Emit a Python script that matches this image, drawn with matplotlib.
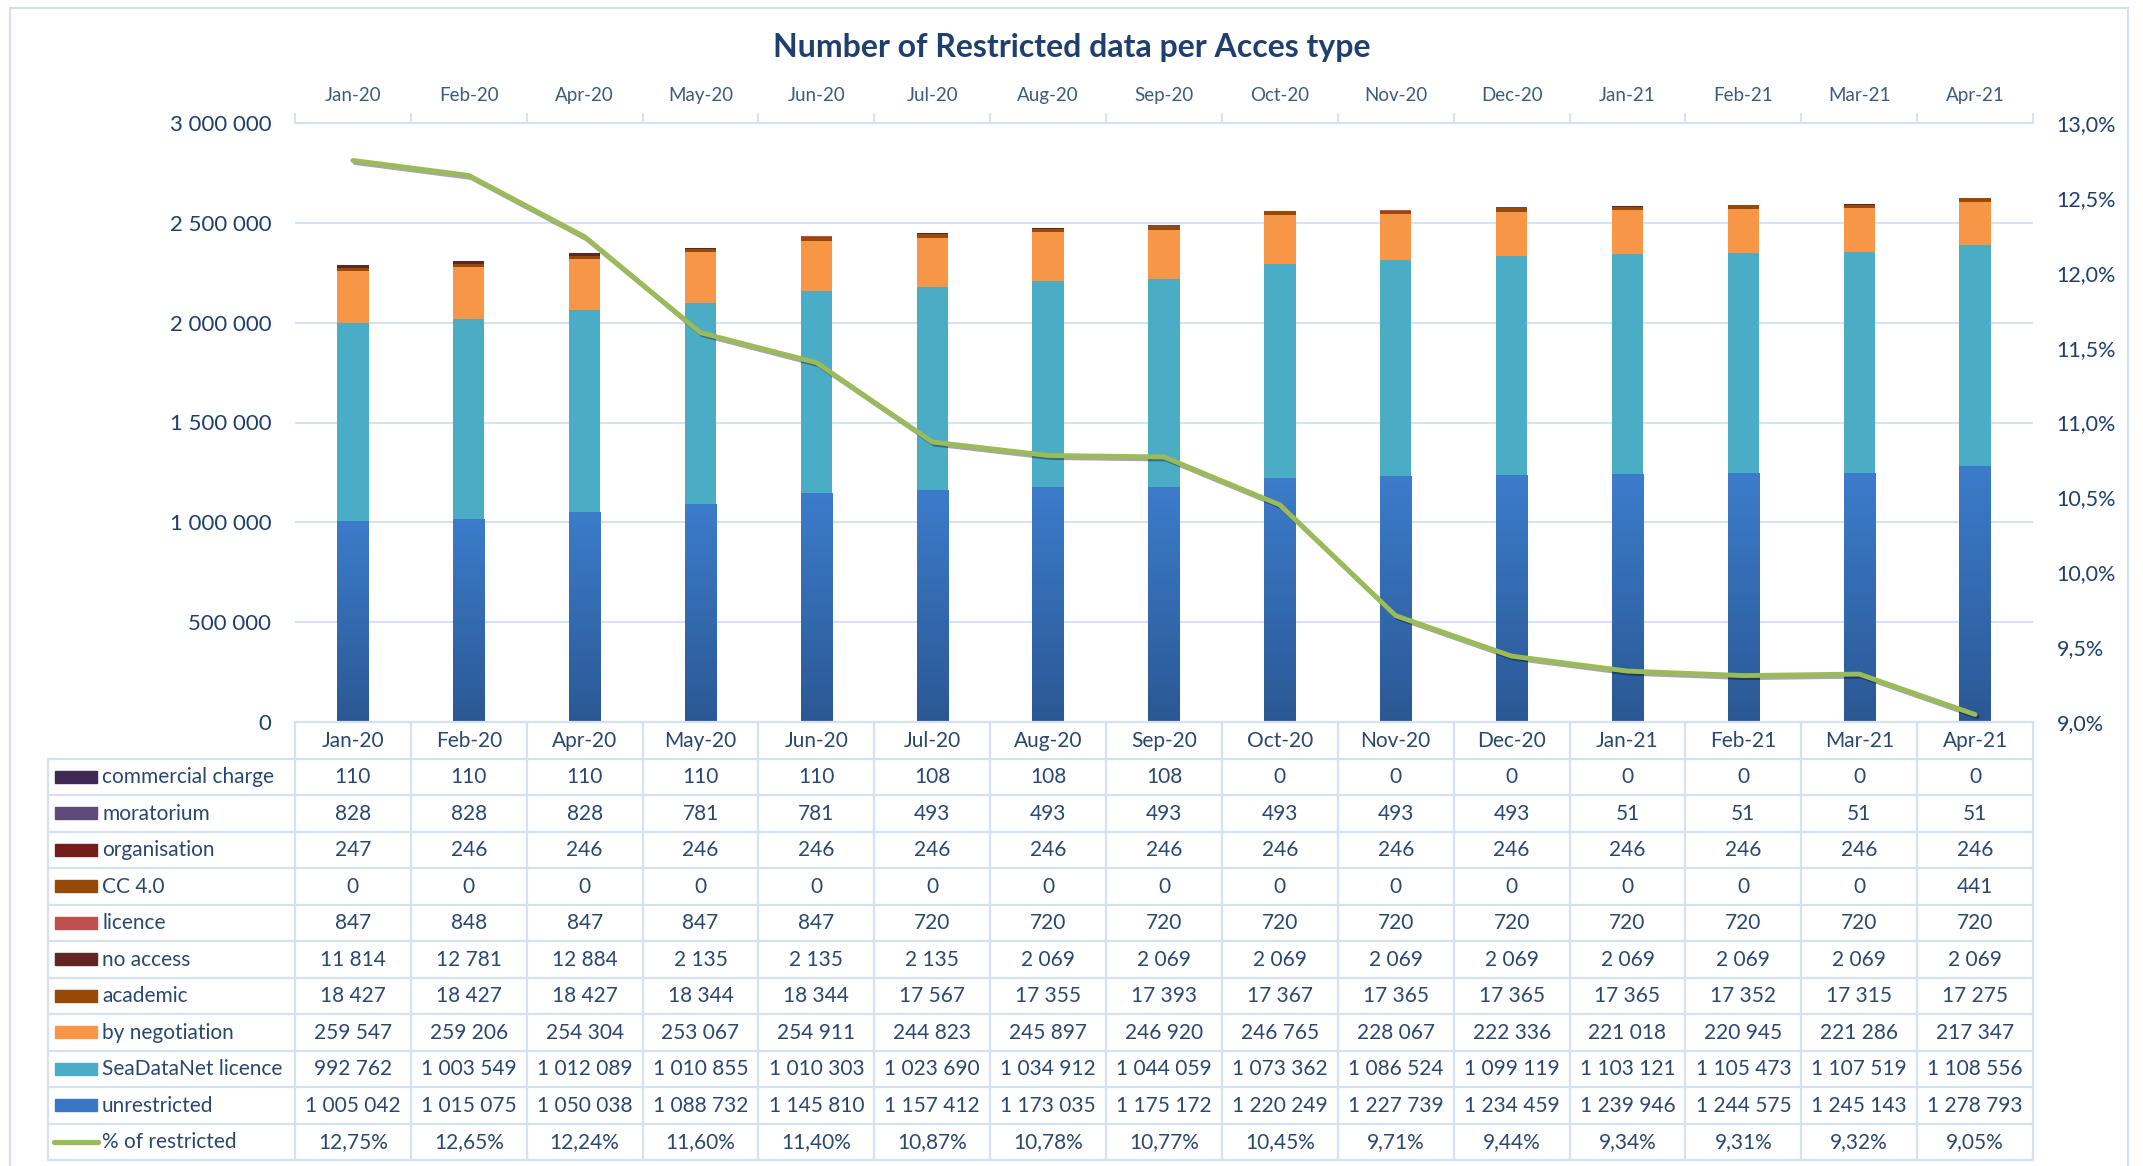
import numpy as np
import matplotlib
matplotlib.use('Agg')
import matplotlib.pyplot as plt
import matplotlib.patheffects as pe
from matplotlib.colors import LinearSegmentedColormap
from matplotlib.patches import Rectangle
from matplotlib.lines import Line2D

plt.rcParams['font.family'] = ['Lato', 'DejaVu Sans']

months = ['Jan-20', 'Feb-20', 'Apr-20', 'May-20', 'Jun-20', 'Jul-20', 'Aug-20', 'Sep-20',
          'Oct-20', 'Nov-20', 'Dec-20', 'Jan-21', 'Feb-21', 'Mar-21', 'Apr-21']
commercial_charge = [110, 110, 110, 110, 110, 108, 108, 108, 0, 0, 0, 0, 0, 0, 0]
moratorium = [828, 828, 828, 781, 781, 493, 493, 493, 493, 493, 493, 51, 51, 51, 51]
organisation = [247, 246, 246, 246, 246, 246, 246, 246, 246, 246, 246, 246, 246, 246, 246]
cc_40 = [0, 0, 0, 0, 0, 0, 0, 0, 0, 0, 0, 0, 0, 0, 441]
licence = [847, 848, 847, 847, 847, 720, 720, 720, 720, 720, 720, 720, 720, 720, 720]
no_access = [11814, 12781, 12884, 2135, 2135, 2135, 2069, 2069, 2069, 2069, 2069, 2069, 2069, 2069, 2069]
academic = [18427, 18427, 18427, 18344, 18344, 17567, 17355, 17393, 17367, 17365, 17365, 17365,
            17352, 17315, 17275]
by_negotiation = [259547, 259206, 254304, 253067, 254911, 244823, 245897, 246920, 246765, 228067,
                  222336, 221018, 220945, 221286, 217347]
seadatanet = [992762, 1003549, 1012089, 1010855, 1010303, 1023690, 1034912, 1044059, 1073362,
              1086524, 1099119, 1103121, 1105473, 1107519, 1108556]
unrestricted = [1005042, 1015075, 1050038, 1088732, 1145810, 1157412, 1173035, 1175172, 1220249,
                1227739, 1234459, 1239946, 1244575, 1245143, 1278793]
pct_restricted = [12.75, 12.65, 12.24, 11.60, 11.40, 10.87, 10.78, 10.77, 10.45, 9.71, 9.44, 9.34,
                  9.31, 9.32, 9.05]

# stacking order, bottom to top
series = [
    ('unrestricted', unrestricted, '#3A76C4'),
    ('SeaDataNet licence', seadatanet, '#4BACC6'),
    ('by negotiation', by_negotiation, '#F79646'),
    ('academic', academic, '#984807'),
    ('no access', no_access, '#632523'),
    ('licence', licence, '#C0504D'),
    ('CC 4.0', cc_40, '#984807'),
    ('organisation', organisation, '#721C1C'),
    ('moratorium', moratorium, '#604A7B'),
    ('commercial charge', commercial_charge, '#3F2A56'),
]
line_color = '#9BBB59'
grid_color = '#D6E2F2'
text_color = '#2A4770'
dark_blue = '#1F3F6E'

W_PX, H_PX = 2143, 1166
ax_left, ax_right, ax_top, ax_bottom = 295, 2033, 123, 722
tab_left, tab_bottom = 48, 1160

fig = plt.figure(figsize=(W_PX / 100, H_PX / 100), dpi=100)
ax = fig.add_axes([ax_left / W_PX, 1 - ax_bottom / H_PX,
                   (ax_right - ax_left) / W_PX, (ax_bottom - ax_top) / H_PX])

x = np.arange(len(months))
bw = 0.27
bottom = np.zeros(len(months))
for name, vals, col in series:
    ax.bar(x, vals, bw, bottom=bottom, color=col, zorder=2, linewidth=0)
    bottom += np.array(vals)

# gradient on the unrestricted bars
blue_cmap = LinearSegmentedColormap.from_list('b', ['#2B5894', '#3C7CCB'])
grad = np.linspace(0, 1, 256).reshape(-1, 1)
for i, v in enumerate(unrestricted):
    ax.imshow(grad, extent=(i - bw / 2, i + bw / 2, 0, v), origin='lower', aspect='auto',
              cmap=blue_cmap, zorder=2.5)

ax.set_xlim(-0.5, len(months) - 0.5)
ax.set_ylim(0, 3000000)
yt = np.arange(0, 3000001, 500000)
ax.set_yticks(yt)
ax.set_yticklabels([f'{int(v):,}'.replace(',', ' ') for v in yt])
ax.grid(axis='y', color=grid_color, lw=1.5, zorder=0)
ax.set_axisbelow(True)
for s in ax.spines.values():
    s.set_visible(False)
ax.tick_params(axis='y', length=0, labelsize=16, labelcolor=dark_blue, pad=17)
ax.tick_params(axis='x', bottom=False, labelbottom=False)

# category labels along the top
top = ax.secondary_xaxis('top')
top.set_xticks(np.arange(-0.5, len(months), 1))
top.set_xticklabels([''] * (len(months) + 1))
top.set_xticks(x, minor=True)
top.set_xticklabels(months, minor=True)
top.tick_params(which='major', length=7, width=1.5, color=grid_color, direction='out')
top.tick_params(which='minor', length=0, labelsize=13.5, labelcolor='#3E5A80', pad=14)
top.spines['top'].set_color(grid_color)
top.spines['top'].set_linewidth(1.5)

# percentage line on the right axis
ax2 = ax.twinx()
ax2.plot(x, pct_restricted, color=line_color, lw=3.5, solid_capstyle='round', zorder=5,
         path_effects=[pe.SimpleLineShadow(offset=(1.5, -1.5), alpha=0.35), pe.Normal()])
ax2.set_ylim(9, 13)
pt = np.arange(9, 13.01, 0.5)
ax2.set_yticks(pt)
ax2.set_yticklabels([f'{v:.1f}%'.replace('.', ',') for v in pt])
ax2.tick_params(axis='y', length=0, labelsize=15.5, labelcolor=dark_blue, pad=17)
for s in ax2.spines.values():
    s.set_visible(False)

fig.text(0.5, 1 - 47 / H_PX, 'Number of Restricted data per Acces type', ha='center', va='center',
         fontsize=23, fontweight='bold', color=dark_blue)

# data table under the chart
tab = fig.add_axes([ax_left / W_PX, 1 - tab_bottom / H_PX,
                    (ax_right - ax_left) / W_PX, (tab_bottom - ax_bottom) / H_PX])
n_rows = 12
tab.set_xlim(-0.5, len(months) - 0.5)
tab.set_ylim(n_rows, 0)
tab.axis('off')
col_px = (ax_right - ax_left) / len(months)


def px2x(px):
    return -0.5 + (px - ax_left) / col_px


xl = px2x(tab_left)
lkw = dict(color=grid_color, lw=1.6, clip_on=False, zorder=1)
tab.add_line(Line2D([-0.5, len(months) - 0.5], [0, 0], **lkw))
for r in range(1, n_rows + 1):
    tab.add_line(Line2D([xl, len(months) - 0.5], [r, r], **lkw))
for k in range(len(months) + 1):
    tab.add_line(Line2D([k - 0.5, k - 0.5], [0, n_rows], **lkw))
tab.add_line(Line2D([xl, xl], [1, n_rows], **lkw))

tkw = dict(ha='center', va='center', fontsize=15, color=text_color, clip_on=False)
for i, m in enumerate(months):
    tab.text(i, 0.52, m, **tkw)

rows = list(reversed(series))
for r, (name, vals, col) in enumerate(rows, start=1):
    tab.add_patch(Rectangle((px2x(55), r + 0.33), px2x(97) - px2x(55), 0.34, color=col,
                            clip_on=False, zorder=2))
    tab.text(px2x(102), r + 0.52, name, ha='left', va='center', fontsize=15, color=text_color,
             clip_on=False)
    for i, v in enumerate(vals):
        tab.text(i, r + 0.52, f'{v:,}'.replace(',', ' '), **tkw)

r = n_rows - 1
tab.add_line(Line2D([px2x(54), px2x(98)], [r + 0.5, r + 0.5], color=line_color, lw=3.8,
                    solid_capstyle='round', clip_on=False, zorder=2))
tab.text(px2x(102), r + 0.52, '% of restricted', ha='left', va='center', fontsize=15,
         color=text_color, clip_on=False)
for i, v in enumerate(pct_restricted):
    tab.text(i, r + 0.52, f'{v:.2f}%'.replace('.', ','), **tkw)

# light frame round the whole chart
fig.patches.append(Rectangle((10 / W_PX, -0.02), (2128 - 10) / W_PX, 1.02 - 8 / H_PX,
                             transform=fig.transFigure, fill=False, edgecolor='#D3DFF0', lw=1.5))

fig.savefig('out.png', dpi=100, facecolor='white')
